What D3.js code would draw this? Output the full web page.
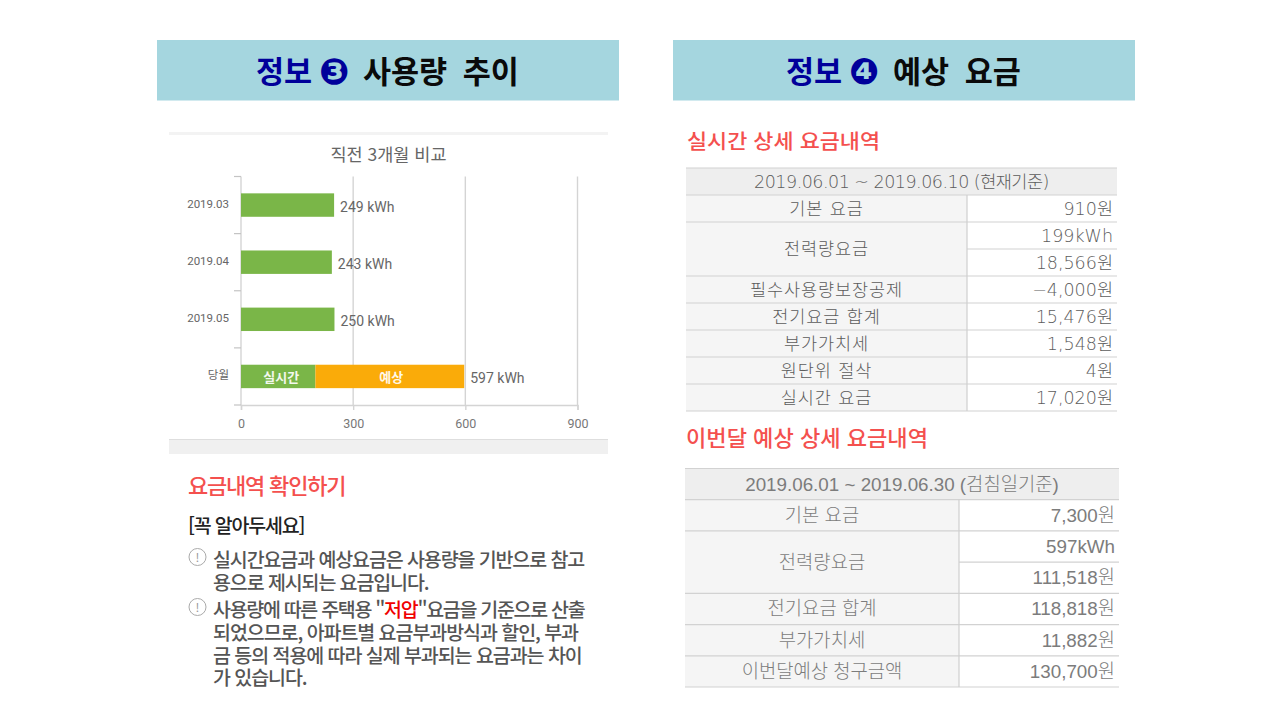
<!DOCTYPE html>
<html lang="ko"><head><meta charset="utf-8">
<script src="https://cdn.jsdelivr.net/npm/d3@7/dist/d3.min.js"></script>
<style>html,body{margin:0;background:#fff}svg{display:block;font-family:"Noto Sans CJK KR","Noto Sans",sans-serif}</style>
</head><body><svg id="c" width="1280" height="720"></svg>
<script>
const months=["2019.03","2019.04","2019.05","당월"];
const realtimeUse=[249,243,250,199];
const forecastUse=[0,0,0,398];
const totalLabels=["249 kWh","243 kWh","250 kWh","597 kWh"];
const xTicks=[0,300,600,900];
const notes1=["실시간요금과 예상요금은 사용량을 기반으로 참고","용으로 제시되는 요금입니다."];
const notes2=["되었으므로, 아파트별 요금부과방식과 할인, 부과","금 등의 적용에 따라 실제 부과되는 요금과는 차이","가 있습니다."];
const t1Head="2019.06.01 ~ 2019.06.10 (현재기준)";
const t1Labels=["기본 요금","전력량요금",null,"필수사용량보장공제","전기요금 합계","부가가치세","원단위 절삭","실시간 요금"];
const t1Values=["910원","199kWh","18,566원","−4,000원","15,476원","1,548원","4원","17,020원"];
const t2Head="2019.06.01 ~ 2019.06.30 (검침일기준)";
const t2Labels=["기본 요금","전력량요금",null,"전기요금 합계","부가가치세","이번달예상 청구금액"];
const t2Values=["7,300원","597kWh","111,518원","118,818원","11,882원","130,700원"];

const svg=d3.select("#c");
function header(x,w,num,rest,numX,restX){
  svg.append("rect").attr("x",x).attr("y",40).attr("width",w).attr("height",60.5).attr("fill","#a5d6df");
  const t=svg.append("text").attr("y",82.5).attr("font-size",30.5).attr("font-weight",700);
  t.append("tspan").attr("x",numX).attr("fill","#00009a").text("정보");
  t.append("tspan").attr("x",numX+63).attr("y",84).attr("fill","#00009a").attr("font-family","DejaVu Sans").attr("font-size",36).text(num);
  t.append("tspan").attr("x",restX).attr("y",82.5).attr("fill","#0a0a0a").attr("style","word-spacing:7px").text(rest);
}
header(157,462,"❸","사용량 추이",256,363);
header(673,462,"❹","예상 요금",786,893);

// chart panel
svg.append("rect").attr("x",169).attr("y",132).attr("width",439).attr("height",3).attr("fill","#f3f3f3");
svg.append("rect").attr("x",169).attr("y",439).attr("width",439).attr("height",15).attr("fill","#f0f0f0");
svg.append("rect").attr("x",169).attr("y",439).attr("width",439).attr("height",1).attr("fill","#dedede");
svg.append("text").attr("x",388.5).attr("y",161).attr("text-anchor","middle").attr("font-size",17.5).attr("fill","#666").text("직전 3개월 비교");

const x=d3.scaleLinear().domain([0,900]).range([241,577.5]);
const y=d3.scaleBand().domain(months).range([176.5,405]).paddingInner(.59).paddingOuter(.295);
const g=svg.append("g");
const gridColor="#d4d4d4";
g.selectAll(".grid").data(xTicks).join("line").attr("x1",d=>x(d)).attr("x2",d=>x(d)).attr("y1",176.5).attr("y2",405)
 .attr("stroke",gridColor).attr("stroke-width",1.4);
const xAxis=g.append("g").attr("transform","translate(0,405)").call(d3.axisBottom(x).tickValues(xTicks).tickSize(5).tickPadding(9));
xAxis.select(".domain").attr("stroke",gridColor).attr("stroke-width",1.4);
xAxis.selectAll(".tick line").attr("stroke",gridColor).attr("stroke-width",1.4);
xAxis.selectAll("text").attr("font-size",12.5).attr("fill","#777").attr("font-family","Roboto");
const step=y.step();
const bandEdges=d3.range(5).map(i=>176.5+i*step);
g.selectAll(".tk").data(bandEdges).join("line").attr("x1",234).attr("x2",241).attr("y1",d=>d).attr("y2",d=>d).attr("stroke","#c4c4c4").attr("stroke-width",1.2);
g.selectAll(".ml").data(months).join("text").attr("x",229).attr("y",d=>y(d)+y.bandwidth()/2+3).attr("text-anchor","end")
 .attr("font-size",11.5).attr("fill","#666").attr("font-family",'Roboto,"Noto Sans CJK KR"').text(d=>d);
g.selectAll(".rt").data(months).join("rect").attr("x",x(0)).attr("y",d=>y(d)).attr("height",y.bandwidth())
 .attr("width",(d,i)=>x(realtimeUse[i])-x(0)).attr("fill","#7ab648");
g.selectAll(".fc").data(months).join("rect").attr("x",(d,i)=>x(realtimeUse[i])).attr("y",d=>y(d)).attr("height",y.bandwidth())
 .attr("width",(d,i)=>x(forecastUse[i])-x(0)).attr("fill","#faab09");
g.selectAll(".tl").data(months).join("text").attr("x",(d,i)=>x(realtimeUse[i]+forecastUse[i])+6).attr("y",d=>y(d)+y.bandwidth()/2+6.5)
 .attr("font-size",14).attr("fill","#666").attr("font-family","Roboto").text((d,i)=>totalLabels[i]);
const last=months[3];
g.append("text").attr("x",(x(0)+x(199))/2+3).attr("y",y(last)+y.bandwidth()/2+5.5).attr("text-anchor","middle").attr("font-size",13).attr("font-weight",700).attr("fill","#f3f8ee").text("실시간");
g.append("text").attr("x",(x(199)+x(597))/2+1.5).attr("y",y(last)+y.bandwidth()/2+5.5).attr("text-anchor","middle").attr("font-size",13).attr("font-weight",700).attr("fill","#fff8e8").text("예상");

// notes
svg.append("text").attr("x",188).attr("y",494).attr("font-size",22).attr("font-weight",500).attr("letter-spacing",-1.2).attr("fill","#f4504e").text("요금내역 확인하기");
svg.append("text").attr("x",188).attr("y",533).attr("font-size",19.5).attr("font-weight",500).attr("letter-spacing",-1.2).attr("fill","#222").text("[꼭 알아두세요]");
function bullet(cy){
  svg.append("circle").attr("cx",197.5).attr("cy",cy).attr("r",8.5).attr("fill","#fff").attr("stroke","#aaa").attr("stroke-width",1);
  svg.append("text").attr("x",197.5).attr("y",cy+4.5).attr("text-anchor","middle").attr("font-size",12).attr("fill","#999").text("!");
}
bullet(557);bullet(607);
const noteAttrs=s=>s.attr("font-size",19.5).attr("font-weight",500).attr("letter-spacing",-1.1).attr("fill","#555");
const n1=svg.append("text").call(noteAttrs);
n1.selectAll("tspan").data(notes1).join("tspan").attr("x",213).attr("y",(d,i)=>567+i*23).text(d=>d);
const n=svg.append("text").call(noteAttrs).attr("x",213).attr("y",617).attr("letter-spacing",-1.3);
n.append("tspan").text("사용량에 따른 주택용 \"");
n.append("tspan").attr("fill","#f00000").text("저압");
n.append("tspan").text("\"요금을 기준으로 산출");
notes2.forEach((d,i)=>n.append("tspan").attr("x",213).attr("y",640+i*22.5).attr("letter-spacing",-1.05).text(d));

// tables
function table(o){
  const rows=o.labels.length;
  const ry=d3.scaleLinear().domain([0,rows+1]).range([o.top,o.bottom]);
  const h=ry(1)-ry(0);
  const c=svg.append("g");
  c.append("rect").attr("x",o.x0).attr("y",ry(0)).attr("width",o.x1-o.x0).attr("height",h).attr("fill","#eeeeee");
  c.append("rect").attr("x",o.x0).attr("y",ry(1)).attr("width",o.split-o.x0).attr("height",rows*h).attr("fill","#f5f5f5");
  d3.range(rows+2).forEach(i=>{
    const spanned=i>1&&i<=rows&&o.labels[i-1]===null;
    c.append("line").attr("x1",spanned?o.split:o.x0).attr("x2",o.x1).attr("y1",ry(i)).attr("y2",ry(i)).attr("stroke","#d2d2d2").attr("stroke-width",1.2);
  });
  c.append("line").attr("x1",o.split).attr("x2",o.split).attr("y1",ry(1)).attr("y2",ry(rows+1)).attr("stroke","#cfcfcf").attr("stroke-width",1.2);
  const ts=s=>s.attr("font-size",o.fs).attr("fill",o.color).attr("font-weight",300).attr("font-family",o.font);
  c.append("text").call(ts).attr("x",(o.x0+o.x1)/2).attr("y",ry(.5)+o.dy).attr("text-anchor","middle").attr("letter-spacing",o.headLs).text(o.head);
  o.labels.forEach((l,i)=>{
    if(l===null)return;
    const mid=o.labels[i+1]===null?ry(i+2):ry(i+1.5);
    c.append("text").call(ts).attr("x",(o.x0+o.split)/2).attr("y",mid+o.dy).attr("text-anchor","middle").attr("letter-spacing",o.labelLs).text(l);
  });
  o.values.forEach((v,i)=>c.append("text").call(ts).attr("x",o.x1-4).attr("y",ry(i+1.5)+o.dy).attr("text-anchor","end").text(v));
}
svg.append("text").attr("x",687).attr("y",149).attr("font-size",20).attr("font-weight",500).attr("textLength",193).attr("lengthAdjust","spacingAndGlyphs").attr("fill","#f4504e").text("실시간 상세 요금내역");
table({x0:686,x1:1117,split:967,top:168,bottom:411,labels:t1Labels,values:t1Values,head:t1Head,fs:17.5,dy:6,headLs:-.5,labelLs:.9,color:"#5c5c5c",font:'"DejaVu Sans","Noto Sans CJK KR"'});
svg.append("text").attr("x",686).attr("y",446).attr("font-size",22).attr("font-weight",500).attr("textLength",242).attr("lengthAdjust","spacingAndGlyphs").attr("fill","#f4504e").text("이번달 예상 상세 요금내역");
table({x0:685,x1:1119,split:959,top:468.5,bottom:687,labels:t2Labels,values:t2Values,head:t2Head,fs:18.8,dy:6.5,headLs:0,labelLs:0,color:"#7c7c7c",font:'"Liberation Sans","Noto Sans CJK KR"'});
</script></body></html>
